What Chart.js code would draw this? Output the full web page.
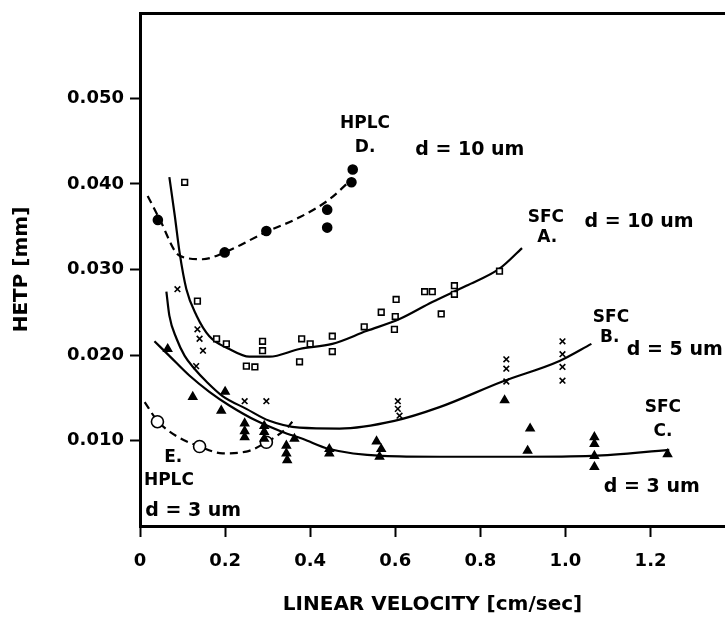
<!DOCTYPE html>
<html>
<head>
<meta charset="utf-8">
<script src="https://cdn.jsdelivr.net/npm/chart.js@4.4.1/dist/chart.umd.min.js"></script>
<style>
    html, body { margin: 0; padding: 0; background: #fff; overflow: hidden; }
</style>
</head>
<body>
<canvas id="hetpChart" width="725" height="617"></canvas>
<script>
const xTickValues = [0, 0.2, 0.4, 0.6, 0.8, 1.0, 1.2];
const xTickLabels = ['0', '0.2', '0.4', '0.6', '0.8', '1.0', '1.2'];
const yTickValues = [0.01, 0.02, 0.03, 0.04, 0.05];
const yTickLabels = ['0.010', '0.020', '0.030', '0.040', '0.050'];

// [linear velocity cm/sec, HETP mm]
// D. HPLC, d = 10 um
const hplcDPoints = [[0.042, 0.0358], [0.199, 0.0320], [0.297, 0.0345], [0.44, 0.0370], [0.44, 0.0349], [0.50, 0.0417], [0.497, 0.0402]];
const hplcDCurve = [[0.018, 0.0386], [0.046, 0.0359], [0.093, 0.0316], [0.147, 0.0312], [0.199, 0.0320], [0.297, 0.0344], [0.375, 0.0361], [0.445, 0.0382], [0.492, 0.0403]];

// A. SFC, d = 10 um
const sfcAPoints = [[0.105, 0.0402], [0.135, 0.0263], [0.18, 0.0219], [0.203, 0.0213], [0.25, 0.0187], [0.27, 0.0186],
    [0.288, 0.0216], [0.288, 0.0205], [0.375, 0.0192], [0.38, 0.0219], [0.40, 0.0213], [0.452, 0.0222], [0.452, 0.0204],
    [0.527, 0.0233], [0.567, 0.025], [0.60, 0.0245], [0.602, 0.0265], [0.598, 0.023], [0.669, 0.0274], [0.687, 0.0274],
    [0.708, 0.0248], [0.739, 0.0281], [0.739, 0.0271], [0.845, 0.0298]];
const sfcACurve = [[0.069, 0.0408], [0.082, 0.0362], [0.093, 0.0320], [0.109, 0.0277], [0.133, 0.0246], [0.163, 0.0222],
    [0.21, 0.0207], [0.257, 0.0198], [0.304, 0.0198], [0.375, 0.0207], [0.452, 0.0213], [0.532, 0.0228], [0.61, 0.0242],
    [0.687, 0.0262], [0.767, 0.0281], [0.845, 0.0301], [0.898, 0.0325]];

// B. SFC, d = 5 um
const sfcBPoints = [[0.088, 0.0277], [0.135, 0.023], [0.14, 0.0219], [0.148, 0.0205], [0.132, 0.0187], [0.246, 0.0146],
    [0.297, 0.0146], [0.606, 0.0146], [0.606, 0.0137], [0.61, 0.0129], [0.861, 0.0195], [0.861, 0.0184], [0.861, 0.0169],
    [0.993, 0.0216], [0.993, 0.0201], [0.993, 0.0186], [0.993, 0.0170]];
const sfcBCurve = [[0.062, 0.0274], [0.069, 0.0246], [0.086, 0.0219], [0.105, 0.0199], [0.128, 0.0184], [0.156, 0.0169],
    [0.194, 0.0152], [0.25, 0.0137], [0.304, 0.0123], [0.375, 0.0115], [0.469, 0.0114], [0.598, 0.0123], [0.704, 0.0139],
    [0.852, 0.0169], [0.986, 0.0193], [1.061, 0.0213]];

// C. SFC, d = 3 um
const sfcCPoints = [[0.065, 0.0207], [0.124, 0.0151], [0.191, 0.0135], [0.2, 0.0157], [0.246, 0.012], [0.246, 0.0111],
    [0.246, 0.0104], [0.292, 0.0117], [0.292, 0.011], [0.292, 0.0102], [0.344, 0.0094], [0.344, 0.0085], [0.346, 0.0077],
    [0.363, 0.0102], [0.445, 0.009], [0.445, 0.0085], [0.556, 0.0099], [0.567, 0.009], [0.563, 0.0081], [0.857, 0.0147],
    [0.917, 0.0114], [0.911, 0.0088], [1.068, 0.0104], [1.068, 0.0096], [1.068, 0.0082], [1.068, 0.0069], [1.24, 0.0084]];
const sfcCCurve = [[0.034, 0.0216], [0.069, 0.0199], [0.116, 0.0176], [0.163, 0.0157], [0.21, 0.0141], [0.274, 0.0123],
    [0.335, 0.011], [0.382, 0.0102], [0.445, 0.009], [0.57, 0.0082], [0.704, 0.0081], [0.892, 0.0081], [1.063, 0.0082],
    [1.244, 0.0089]];

// E. HPLC, d = 3 um
const hplcEPoints = [[0.041, 0.0122], [0.14, 0.0093], [0.297, 0.0098]];
const hplcECurve = [[0.011, 0.0145], [0.041, 0.0123], [0.086, 0.0105], [0.14, 0.0093], [0.194, 0.0085], [0.25, 0.0087],
    [0.297, 0.0098], [0.344, 0.0114], [0.358, 0.0122]];

const FONT = '"DejaVu Sans", "Liberation Sans", sans-serif';

function toXY(pairs) {
    return pairs.map(p => ({ x: p[0], y: p[1] }));
}

function markerSet(label, pairs, style, radius, filled) {
    return {
        label: label,
        data: toXY(pairs),
        showLine: false,
        pointStyle: style,
        pointRadius: radius,
        pointBackgroundColor: filled ? '#000' : '#fff',
        pointBorderColor: '#000',
        pointBorderWidth: 1.6
    };
}

function curveSet(label, pairs, dashed) {
    return {
        label: label,
        data: toXY(pairs),
        showLine: true,
        pointRadius: 0,
        borderColor: '#000',
        borderWidth: 2.2,
        borderDash: dashed ? [8, 5] : [],
        cubicInterpolationMode: 'monotone',
        fill: false
    };
}

// text written next to the curves, in data units
const curveLabels = [
    { text: 'HPLC', x: 0.529, y: 0.0471, size: 17 },
    { text: 'D.', x: 0.529, y: 0.0443, size: 17 },
    { text: 'd = 10 um', x: 0.775, y: 0.0440, size: 19 },
    { text: 'SFC', x: 0.954, y: 0.0361, size: 17 },
    { text: 'A.', x: 0.957, y: 0.0337, size: 17 },
    { text: 'd = 10 um', x: 1.173, y: 0.0356, size: 19 },
    { text: 'SFC', x: 1.107, y: 0.0244, size: 17 },
    { text: 'B.', x: 1.104, y: 0.0220, size: 17 },
    { text: 'd = 5 um', x: 1.257, y: 0.0206, size: 19 },
    { text: 'SFC', x: 1.229, y: 0.0138, size: 17 },
    { text: 'C.', x: 1.229, y: 0.0111, size: 17 },
    { text: 'd = 3 um', x: 1.203, y: 0.0046, size: 19 },
    { text: 'E.', x: 0.078, y: 0.0080, size: 17 },
    { text: 'HPLC', x: 0.068, y: 0.0053, size: 17 },
    { text: 'd = 3 um', x: 0.125, y: 0.0018, size: 19 }
];

const curveLabelPlugin = {
    id: 'curveLabels',
    afterDatasetsDraw(chart) {
        const ctx = chart.ctx;
        const xs = chart.scales.x;
        const ys = chart.scales.y;
        ctx.save();
        ctx.fillStyle = '#000';
        ctx.textAlign = 'center';
        ctx.textBaseline = 'middle';
        curveLabels.forEach(item => {
            ctx.font = 'bold ' + item.size + 'px ' + FONT;
            ctx.fillText(item.text, xs.getPixelForValue(item.x), ys.getPixelForValue(item.y));
        });
        ctx.restore();
    }
};

// keep the plot box where the scan has it
function noPadding(scale) {
    scale.paddingLeft = 0;
    scale.paddingRight = 0;
    scale.paddingTop = 0;
    scale.paddingBottom = 0;
}

const tickFont = { family: FONT, size: 18, weight: 'bold' };
const titleFont = { family: FONT, size: 20, weight: 'bold' };

const ctx = document.getElementById('hetpChart').getContext('2d');
const hetpChart = new Chart(ctx, {
    type: 'scatter',
    data: {
        datasets: [
            markerSet('HPLC D', hplcDPoints, 'circle', 4.5, true),
            markerSet('SFC A', sfcAPoints, 'rect', 4, false),
            markerSet('SFC B', sfcBPoints, 'crossRot', 4, false),
            markerSet('SFC C', sfcCPoints, 'triangle', 4.5, true),
            markerSet('HPLC E', hplcEPoints, 'circle', 6, false),
            curveSet('HPLC D fit', hplcDCurve, true),
            curveSet('SFC A fit', sfcACurve, false),
            curveSet('SFC B fit', sfcBCurve, false),
            curveSet('SFC C fit', sfcCCurve, false),
            curveSet('HPLC E fit', hplcECurve, true)
        ]
    },
    options: {
        responsive: false,
        animation: false,
        layout: { autoPadding: false, padding: { top: 13, right: 0, bottom: 0, left: 0 } },
        plugins: {
            legend: { display: false },
            tooltip: { enabled: false }
        },
        scales: {
            x: {
                type: 'linear',
                position: 'bottom',
                min: 0,
                max: 1.375,
                afterBuildTicks: scale => { scale.ticks = xTickValues.map(v => ({ value: v })); },
                afterFit: scale => { scale.height = 91; noPadding(scale); },
                grid: { display: true, drawOnChartArea: false, drawTicks: true, tickLength: 11, tickWidth: 2, color: '#000' },
                border: { display: true, width: 3, color: '#000' },
                ticks: {
                    callback: (value, index) => xTickLabels[index],
                    font: tickFont,
                    color: '#000',
                    padding: 14,
                    maxRotation: 0,
                    autoSkip: false
                },
                title: { display: true, text: 'LINEAR VELOCITY [cm/sec]', font: titleFont, color: '#000', padding: { top: 0, bottom: 0 } }
            },
            xTop: {
                type: 'linear',
                position: 'top',
                min: 0,
                max: 1.375,
                afterFit: scale => { scale.height = 0; noPadding(scale); },
                grid: { display: false },
                border: { display: true, width: 3, color: '#000' },
                ticks: { display: false }
            },
            y: {
                type: 'linear',
                position: 'left',
                min: 0,
                max: 0.06,
                afterBuildTicks: scale => { scale.ticks = yTickValues.map(v => ({ value: v })); },
                afterFit: scale => { scale.width = 140; noPadding(scale); },
                grid: { display: true, drawOnChartArea: false, drawTicks: true, tickLength: 10, tickWidth: 2, color: '#000' },
                border: { display: true, width: 3, color: '#000' },
                ticks: {
                    callback: (value, index) => yTickLabels[index],
                    font: tickFont,
                    color: '#000',
                    padding: 6
                },
                title: { display: true, text: 'HETP [mm]', font: titleFont, color: '#000', padding: { top: 10, bottom: 0 } }
            }
        }
    },
    plugins: [curveLabelPlugin]
});
</script>
</body>
</html>
